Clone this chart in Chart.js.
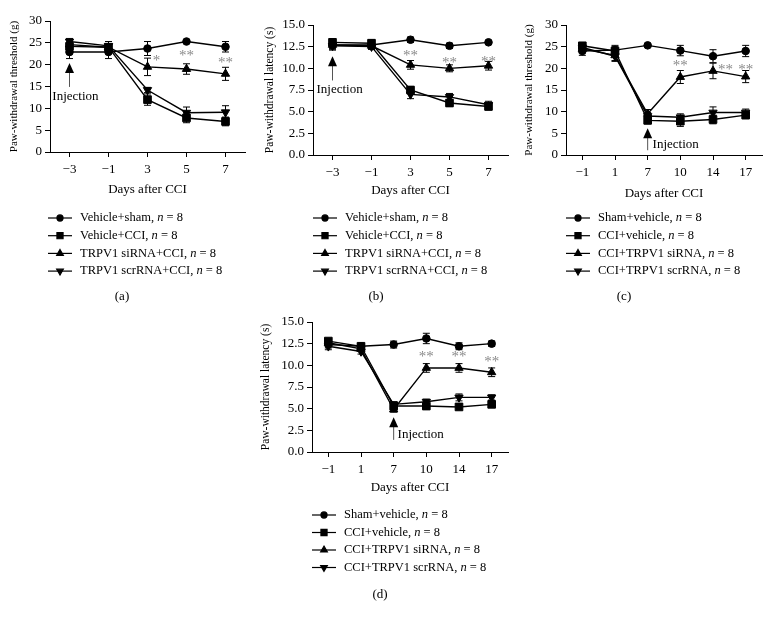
<!DOCTYPE html>
<html>
<head>
<meta charset="utf-8">
<script src="https://cdn.jsdelivr.net/npm/chart.js@4.4.1/dist/chart.umd.min.js"></script>
<style>
  body { margin: 0; background: #fff; }
  #fig { position: relative; width: 771px; height: 620px; overflow: hidden; }
  #fig canvas { position: absolute; }
</style>
</head>
<body>
<div id="fig">
  <canvas id="panelA" width="258" height="310" style="left:0;top:0"></canvas>
  <canvas id="panelB" width="258" height="310" style="left:258px;top:0"></canvas>
  <canvas id="panelC" width="255" height="310" style="left:516px;top:0"></canvas>
  <canvas id="panelD" width="258" height="310" style="left:258px;top:310px"></canvas>
</div>
<script>
// categories (days after CCI)
const daysAB = ['\u22123', '\u22121', '3', '5', '7'];
const daysCD = ['\u22121', '1', '7', '10', '14', '17'];

// group names
const namesAB = ['Vehicle+sham', 'Vehicle+CCI', 'TRPV1 siRNA+CCI', 'TRPV1 scrRNA+CCI'];
const namesCD = ['Sham+vehicle', 'CCI+vehicle', 'CCI+TRPV1 siRNA', 'CCI+TRPV1 scrRNA'];
const groupN = 8;

// (a) paw-withdrawal threshold (g)
const aSham = [22.9, 22.9, 23.7, 25.3, 24.1];
const aShamErr = [1.5, 1.5, 1.6, 0.3, 1.2];
const aCCI = [24.2, 24.0, 12.0, 7.8, 7.0];
const aCCIErr = [1.0, 0.8, 1.3, 1.1, 1.0];
const aSi = [24.6, 24.0, 19.5, 19.0, 17.9];
const aSiErr = [1.0, 0.8, 2.0, 1.2, 1.5];
const aScr = [25.3, 24.3, 14.2, 9.0, 9.1];
const aScrErr = [0.7, 1.0, 0.6, 1.3, 1.5];

// (b) paw-withdrawal latency (s)
const bSham = [12.7, 12.7, 13.3, 12.6, 13.0];
const bShamErr = [0.4, 0.4, 0.3, 0.3, 0.2];
const bCCI = [13.0, 12.9, 7.5, 6.0, 5.6];
const bCCIErr = [0.4, 0.4, 0.4, 0.4, 0.4];
const bSi = [12.7, 12.6, 10.4, 10.0, 10.3];
const bSiErr = [0.5, 0.4, 0.5, 0.4, 0.5];
const bScr = [12.6, 12.5, 7.0, 6.7, 5.8];
const bScrErr = [0.5, 0.3, 0.5, 0.4, 0.4];

// (c) paw-withdrawal threshold (g)
const cSham = [24.0, 24.2, 25.3, 24.1, 22.8, 24.0];
const cShamErr = [1.0, 1.1, 0.3, 1.2, 1.5, 1.3];
const cCCI = [25.2, 24.0, 8.0, 7.8, 8.2, 9.2];
const cCCIErr = [0.6, 1.0, 0.8, 1.2, 1.0, 0.8];
const cSi = [24.5, 23.0, 9.5, 18.0, 19.4, 18.1];
const cSiErr = [0.9, 1.4, 1.0, 1.5, 1.8, 1.4];
const cScr = [24.8, 22.8, 9.0, 8.7, 9.8, 9.8];
const cScrErr = [0.8, 1.0, 0.8, 0.8, 1.3, 0.8];

// (d) paw-withdrawal latency (s)
const dSham = [12.4, 12.2, 12.4, 13.1, 12.2, 12.5];
const dShamErr = [0.4, 0.3, 0.4, 0.6, 0.4, 0.3];
const dCCI = [12.8, 12.2, 5.3, 5.3, 5.2, 5.5];
const dCCIErr = [0.3, 0.3, 0.3, 0.2, 0.2, 0.3];
const dSi = [12.6, 11.9, 4.9, 9.7, 9.7, 9.2];
const dSiErr = [0.3, 0.3, 0.3, 0.5, 0.5, 0.5];
const dScr = [12.2, 11.6, 5.5, 5.8, 6.3, 6.3];
const dScrErr = [0.4, 0.3, 0.3, 0.3, 0.4, 0.3];

// significance marks: [category index, value, text]
const sigA = [[2.23, 21.6, '*'], [3, 22.6, '**'], [4, 21.1, '**']];
const sigB = [[2, 11.8, '**'], [3, 11.0, '**'], [4, 11.1, '**']];
const sigC = [[3, 21.3, '**'], [4.38, 20.3, '**'], [5, 20.3, '**']];
const sigD = [[3, 11.3, '**'], [4, 11.3, '**'], [5, 10.7, '**']];

const SERIF = '"Liberation Serif", "DejaVu Serif", serif';
const markers = [
    { style: 'circle', rot: 0, r: 3.8 },
    { style: 'rect', rot: 0, r: 5.4 },
    { style: 'triangle', rot: 0, r: 4.8 },
    { style: 'triangle', rot: 180, r: 4.8 }
];

function drawErrorBars(chart) {
    const ctx = chart.ctx;
    const ys = chart.scales.y;
    ctx.save();
    ctx.strokeStyle = '#000';
    ctx.lineWidth = 1;
    chart.data.datasets.forEach((ds, di) => {
        const meta = chart.getDatasetMeta(di);
        meta.data.forEach((pt, i) => {
            const e = ds.err[i];
            const top = ys.getPixelForValue(ds.data[i] + e);
            const bot = ys.getPixelForValue(ds.data[i] - e);
            ctx.beginPath();
            ctx.moveTo(pt.x, top); ctx.lineTo(pt.x, bot);
            ctx.moveTo(pt.x - 3.5, top); ctx.lineTo(pt.x + 3.5, top);
            ctx.moveTo(pt.x - 3.5, bot); ctx.lineTo(pt.x + 3.5, bot);
            ctx.stroke();
        });
    });
    ctx.restore();
}

function drawDecor(chart, d) {
    const ctx = chart.ctx;
    const xs = chart.scales.x, ys = chart.scales.y;
    ctx.save();

    // asterisks
    ctx.fillStyle = '#8a8a8a';
    ctx.font = '15px ' + SERIF;
    ctx.textAlign = 'center';
    ctx.textBaseline = 'alphabetic';
    d.sig.forEach(s => {
        ctx.fillText(s[2], xs.getPixelForValue(s[0]), ys.getPixelForValue(s[1]) + 7);
    });

    // injection arrow
    const inj = d.injection;
    const ax = xs.getPixelForValue(inj.index);
    const tip = ys.getPixelForValue(inj.tip);
    const tail = ys.getPixelForValue(inj.tail);
    ctx.strokeStyle = '#555';
    ctx.lineWidth = 1;
    ctx.beginPath(); ctx.moveTo(ax, tip + 8); ctx.lineTo(ax, tail); ctx.stroke();
    ctx.fillStyle = '#000';
    ctx.beginPath();
    ctx.moveTo(ax, tip); ctx.lineTo(ax - 4.5, tip + 10); ctx.lineTo(ax + 4.5, tip + 10);
    ctx.closePath(); ctx.fill();
    ctx.font = '13px ' + SERIF;
    ctx.textAlign = 'left';
    ctx.textBaseline = 'middle';
    ctx.fillText('Injection', xs.getPixelForValue(inj.tx), ys.getPixelForValue(inj.ty));

    // legend
    const lg = d.legend;
    chart.data.datasets.forEach((ds, i) => {
        const cy = lg.y + i * lg.row;
        ctx.strokeStyle = '#000';
        ctx.lineWidth = 1.2;
        ctx.beginPath(); ctx.moveTo(lg.x, cy); ctx.lineTo(lg.x + 24, cy); ctx.stroke();
        ctx.fillStyle = '#000';
        const m = markers[i];
        Chart.helpers.drawPoint(ctx, { pointStyle: m.style, rotation: m.rot, radius: m.r * 0.8, borderWidth: 1 }, lg.x + 12, cy);
        let tx = lg.x + 32;
        ctx.textAlign = 'left';
        ctx.textBaseline = 'middle';
        ctx.font = '12.5px ' + SERIF;
        const head = ds.label + ', ';
        ctx.fillText(head, tx, cy); tx += ctx.measureText(head).width;
        ctx.font = 'italic 12.5px ' + SERIF;
        ctx.fillText('n', tx, cy); tx += ctx.measureText('n').width;
        ctx.font = '12.5px ' + SERIF;
        ctx.fillText(' = ' + groupN, tx, cy);
    });

    // panel label
    ctx.font = '13px ' + SERIF;
    ctx.textAlign = 'center';
    ctx.fillText(d.tag, d.tagX, d.tagY);
    ctx.restore();
}

function makePanel(id, p) {
    const series = [p.sham, p.cci, p.si, p.scr];
    const errs = [p.shamErr, p.cciErr, p.siErr, p.scrErr];
    const datasets = series.map((vals, i) => ({
        label: p.names[i],
        data: vals,
        err: errs[i],
        borderColor: '#000',
        borderWidth: 1.4,
        backgroundColor: '#000',
        pointStyle: markers[i].style,
        pointRotation: markers[i].rot,
        pointRadius: markers[i].r,
        pointBackgroundColor: '#000',
        pointBorderColor: '#000',
        pointBorderWidth: 1,
        tension: 0
    }));

    new Chart(document.getElementById(id), {
        type: 'line',
        data: { labels: p.days, datasets: datasets },
        options: {
            responsive: false,
            animation: false,
            layout: { padding: p.pad },
            plugins: { legend: { display: false }, tooltip: { enabled: false } },
            scales: {
                x: {
                    type: 'category',
                    offset: true,
                    afterFit: s => { s.height = p.xH; },
                    border: { color: '#000', width: 1 },
                    grid: { offset: false, drawOnChartArea: false, drawTicks: true, tickLength: 5, color: '#000' },
                    ticks: { color: '#000', font: { family: SERIF, size: 13 }, padding: 5, maxRotation: 0, autoSkip: false },
                    title: { display: true, text: 'Days after CCI', color: '#000', font: { family: SERIF, size: 13 }, padding: { top: 0, bottom: 0 } }
                },
                y: {
                    min: 0,
                    max: p.yMax,
                    afterFit: s => { s.width = p.yW; },
                    border: { color: '#000', width: 1 },
                    grid: { drawOnChartArea: false, drawTicks: true, tickLength: 5, color: '#000' },
                    ticks: {
                        stepSize: p.step,
                        color: '#000',
                        font: { family: SERIF, size: 13 },
                        padding: 3,
                        callback: v => p.step < 5 ? v.toFixed(1) : String(v)
                    },
                    title: { display: true, text: p.yTitle, color: '#000', font: { family: SERIF, size: p.yTitleSize }, padding: { top: p.yTitlePad, bottom: 0 } }
                }
            }
        },
        plugins: [{
            id: 'decor_' + id,
            afterDatasetsDraw: chart => drawErrorBars(chart),
            afterDraw: chart => drawDecor(chart, p.decor)
        }]
    });
}

makePanel('panelA', {
    days: daysAB, names: namesAB,
    sham: aSham, shamErr: aShamErr, cci: aCCI, cciErr: aCCIErr, si: aSi, siErr: aSiErr, scr: aScr, scrErr: aScrErr,
    yMax: 30, step: 5, yTitle: 'Paw-withdrawal threshold (g)', yTitleSize: 11, yTitlePad: 8,
    yW: 50, xH: 45, pad: { left: 0, top: 21, right: 13, bottom: 113 },
    decor: {
        sig: sigA,
        injection: { index: 0, tip: 20.4, tail: 14.9, tx: -0.44, ty: 12.8 },
        legend: { x: 48, y: 218, row: 17.7 },
        tag: '(a)', tagX: 122, tagY: 297
    }
});

makePanel('panelB', {
    days: daysAB, names: namesAB,
    sham: bSham, shamErr: bShamErr, cci: bCCI, cciErr: bCCIErr, si: bSi, siErr: bSiErr, scr: bScr, scrErr: bScrErr,
    yMax: 15, step: 2.5, yTitle: 'Paw-withdrawal latency (s)', yTitleSize: 11.5, yTitlePad: 5,
    yW: 55, xH: 43, pad: { left: 0, top: 25, right: 8, bottom: 112 },
    decor: {
        sig: sigB,
        injection: { index: 0, tip: 11.4, tail: 8.6, tx: -0.41, ty: 7.6 },
        legend: { x: 55, y: 218, row: 17.7 },
        tag: '(b)', tagX: 118, tagY: 297
    }
});

makePanel('panelC', {
    days: daysCD, names: namesCD,
    sham: cSham, shamErr: cShamErr, cci: cCCI, cciErr: cCCIErr, si: cSi, siErr: cSiErr, scr: cScr, scrErr: cScrErr,
    yMax: 30, step: 5, yTitle: 'Paw-withdrawal threshold (g)', yTitleSize: 11, yTitlePad: 7,
    yW: 50, xH: 46, pad: { left: 0, top: 25, right: 9, bottom: 109 },
    decor: {
        sig: sigC,
        injection: { index: 2, tip: 6.2, tail: 1.1, tx: 2.15, ty: 2.5 },
        legend: { x: 50, y: 218, row: 17.7 },
        tag: '(c)', tagX: 108, tagY: 297
    }
});

makePanel('panelD', {
    days: daysCD, names: namesCD,
    sham: dSham, shamErr: dShamErr, cci: dCCI, cciErr: dCCIErr, si: dSi, siErr: dSiErr, scr: dScr, scrErr: dScrErr,
    yMax: 15, step: 2.5, yTitle: 'Paw-withdrawal latency (s)', yTitleSize: 11.5, yTitlePad: 1,
    yW: 54, xH: 43, pad: { left: 0, top: 12, right: 8, bottom: 125 },
    decor: {
        sig: sigD,
        injection: { index: 2, tip: 4.0, tail: 1.4, tx: 2.12, ty: 2.0 },
        legend: { x: 54, y: 205, row: 17.5 },
        tag: '(d)', tagX: 122, tagY: 285
    }
});
</script>
</body>
</html>
